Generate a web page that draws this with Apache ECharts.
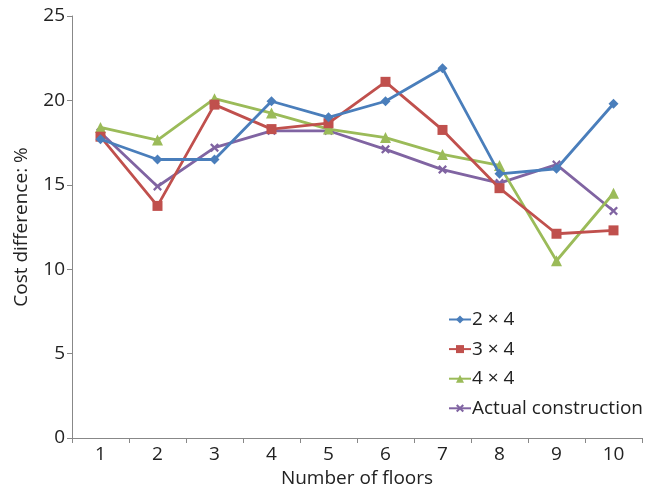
<!DOCTYPE html>
<html><head><meta charset="utf-8">
<script src="https://cdn.jsdelivr.net/npm/echarts@6/dist/echarts.min.js"></script>
<style>html,body{margin:0;padding:0;background:#fff}#c{width:645px;height:491px}</style>
</head><body><div id="c"></div>
<script>
const categories = ['1','2','3','4','5','6','7','8','9','10'];
const s2x4 = [17.7, 16.5, 16.5, 19.95, 19.0, 19.95, 21.9, 15.65, 15.95, 19.8];
const s3x4 = [17.85, 13.75, 19.75, 18.3, 18.65, 21.1, 18.25, 14.8, 12.1, 12.3];
const s4x4 = [18.4, 17.65, 20.1, 19.25, 18.3, 17.8, 16.8, 16.15, 10.5, 14.5];
const sActual = [18.1, 14.9, 17.2, 18.2, 18.2, 17.1, 15.9, 15.1, 16.2, 13.45];
const names = ['2 × 4', '3 × 4', '4 × 4', 'Actual construction'];
const colors = ['#4a7ebb', '#c0504d', '#9bbb59', '#8064a2'];
const xPath = 'path://M0,1.8 L1.8,0 L5,3.2 L8.2,0 L10,1.8 L6.8,5 L10,8.2 L8.2,10 L5,6.8 L1.8,10 L0,8.2 L3.2,5 Z';
const symbols = ['diamond', 'rect', 'triangle', xPath];
const sizes = [10, 10, 11, 9];
const font = '"Open Sans", "Noto Sans", sans-serif';
const fs = 19;
const chart = echarts.init(document.getElementById('c'));
const data = [s2x4, s3x4, s4x4, sActual];
chart.setOption({
  animation: false,
  color: colors,
  grid: {left: 72, right: 3, top: 16, bottom: 53, containLabel: false, outerBoundsMode: 'none'},
  legend: {
    orient: 'vertical', left: 443, top: 305, itemGap: 10.6, itemWidth: 22, itemHeight: 10,
    textStyle: {fontFamily: font, fontSize: fs, color: '#222', padding: [0,0,0,-4]},
    data: names
  },
  xAxis: {
    type: 'category', data: categories, boundaryGap: true,
    name: 'Number of floors', nameLocation: 'middle', nameGap: 28,
    nameTextStyle: {fontFamily: font, fontSize: fs, color: '#222'},
    axisLine: {lineStyle: {color: '#888', width: 1}},
    axisTick: {show: true, length: 5, lineStyle: {color: '#888'}},
    axisLabel: {fontFamily: font, fontSize: fs, color: '#222', margin: 7}
  },
  yAxis: {
    type: 'value', min: 0, max: 25, interval: 5,
    name: 'Cost difference: %', nameLocation: 'middle', nameGap: 41,
    nameTextStyle: {fontFamily: font, fontSize: fs, color: '#222'},
    axisLine: {show: true, lineStyle: {color: '#888', width: 1}},
    axisTick: {show: true, length: 5, lineStyle: {color: '#888'}},
    axisLabel: {fontFamily: font, fontSize: fs, color: '#222', margin: 7},
    splitLine: {show: false}
  },
  series: data.map((d,i)=>({
    name: names[i], type: 'line', data: d,
    symbol: symbols[i], symbolSize: sizes[i], showAllSymbol: true,
    lineStyle: {width: 2.8, color: colors[i]},
    itemStyle: {color: colors[i]},
    z: 10 - i
  }))
});
</script></body></html>
